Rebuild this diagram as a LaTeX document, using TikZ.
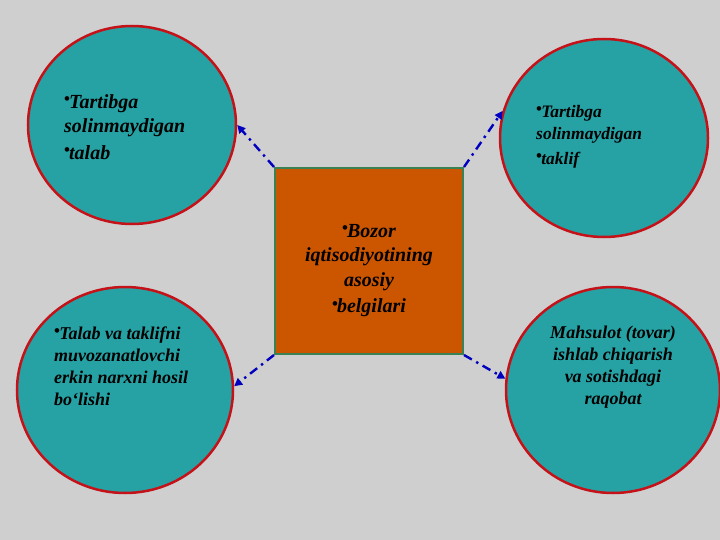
\documentclass[tikz,border=0pt]{standalone}
\usepackage{fontspec}
\setmainfont{Liberation Serif}
\usetikzlibrary{shapes.geometric,arrows.meta}
\definecolor{bgray}{RGB}{207,207,207}
\definecolor{tealfill}{RGB}{38,162,164}
\definecolor{redline}{RGB}{196,18,24}
\definecolor{brickfill}{RGB}{204,85,0}
\definecolor{greenline}{RGB}{58,130,84}
\definecolor{arrowblue}{RGB}{0,0,190}
\newcommand{\bul}{\raisebox{0.18em}{\fontsize{17}{17}\selectfont\upshape •}\hspace{-0.05em}}
\tikzset{
    oval/.style={ellipse, draw=redline, line width=2.5pt, fill=tealfill, inner sep=0pt},
    label text/.style={inner sep=0pt, text=black},
    link/.style={draw=arrowblue, line width=2.4pt, dash pattern=on 9pt off 5pt on 2.4pt off 5pt, -{Triangle[length=8pt,width=8pt]}}
}

\begin{document}
\begin{tikzpicture}[x=1pt,y=-1pt]
    \useasboundingbox (0,0) rectangle (720,540);
    \fill[bgray] (0,0) rectangle (720,540);
    %ovals
    \node[oval, minimum width=208pt, minimum height=198pt] (tl) at (132,125) {};
    \node[oval, minimum width=208pt, minimum height=198pt] (tr) at (604,138) {};
    \node[oval, minimum width=216pt, minimum height=206pt] (bl) at (125,390) {};
    \node[oval, minimum width=214pt, minimum height=206pt] (br) at (613,390) {};
    %centre
    \node[draw=greenline, line width=2pt, fill=brickfill, minimum width=188pt, minimum height=186pt, inner sep=0pt] (sq) at (369,261) {};
    %texts
    \node[label text, anchor=north west, align=left, font=\fontsize{20}{24}\bfseries\itshape] (tltext) at (64,94)
        {\bul Tartibga\\ solinmaydigan\\[3pt] \bul talab};
    \node[label text, anchor=north west, align=left, font=\fontsize{17.5}{22}\bfseries\itshape] (trtext) at (536,105)
        {\bul Tartibga\\ solinmaydigan\\[3pt] \bul taklif};
    \node[label text, anchor=north west, align=left, font=\fontsize{18}{22}\bfseries\itshape] (bltext) at (54,327)
        {\bul Talab va taklifni\\ muvozanatlovchi\\ erkin narxni hosil\\ bo‘lishi};
    \node[label text, anchor=north, align=center, font=\fontsize{18}{22}\bfseries\itshape] (brtext) at (613,326)
        {Mahsulot (tovar)\\ ishlab chiqarish\\ va sotishdagi\\ raqobat};
    \node[label text, anchor=north, align=center, font=\fontsize{20}{24.5}\bfseries\itshape] (sqtext) at (369,224)
        {\bul Bozor\\ iqtisodiyotining\\ asosiy\\[2pt] \bul belgilari};
    %links
    \draw[link] (sq.north west) -- (tl.east);
    \draw[link] (sq.north east) -- (tr.165);
    \draw[link] (sq.south west) -- (bl.2);
    \draw[link] (sq.south east) -- (br.174);
\end{tikzpicture}
\end{document}
